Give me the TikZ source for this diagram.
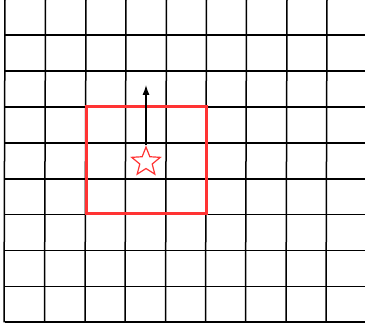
\documentclass[tikz,border=0pt]{standalone}
\usepackage{tikz}
\usetikzlibrary{positioning,arrows.meta,shapes.geometric}

\begin{document}
\begin{tikzpicture}[x=1pt,y=-1pt]
  \useasboundingbox (0,0) rectangle (365,328);
  % grid
  \foreach \x in {5,45.5,86,126,166.5,206.5,246.5,287,327}
    \draw[line width=1.5pt] (\x,0) -- (\x-1,322.5);
  \foreach \y in {35,71,107,143,179,214.5,250.5,286.5,322}
    \draw[line width=1.5pt] (5,\y) -- (365,\y);
  \coordinate (A) at (86,107);
  \coordinate (B) at (206,214);
  \draw[red!80!white,line width=3pt] (A) rectangle (B);
  \node[star,star points=5,star point ratio=2.3,draw=red!80!white,line width=1.2pt,
        fill=white,minimum size=30pt,inner sep=0pt] (agent) at (146,162) {};
  \coordinate (goal) at (146,85);
  \draw[line width=1.2pt,-{Latex[length=10pt,width=7pt]}] (agent.north) -- (goal);
\end{tikzpicture}
\end{document}
